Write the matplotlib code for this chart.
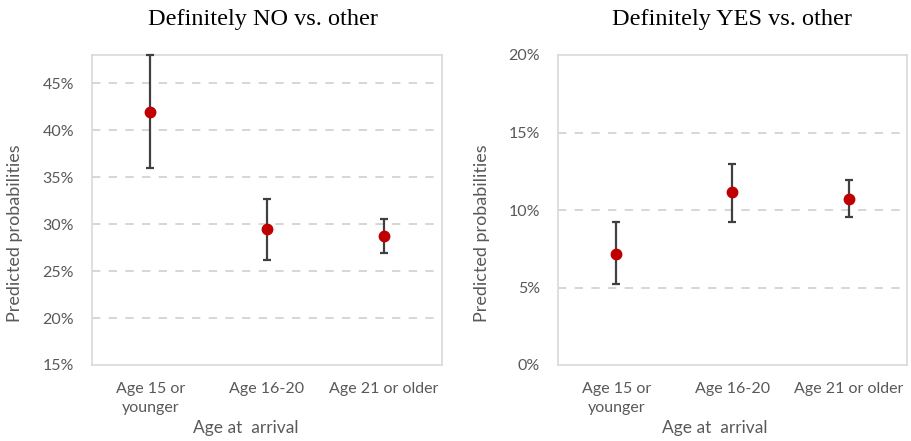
import matplotlib
matplotlib.use("Agg")
import matplotlib.pyplot as plt
import numpy as np
from matplotlib.ticker import FuncFormatter

categories = ["Age 15 or\nyounger", "Age 16-20", "Age 21 or older"]

no_est = [41.9, 29.45, 28.7]
no_low = [36.0, 26.2, 26.9]
no_high = [48.0, 32.7, 30.5]

yes_est = [7.15, 11.15, 10.7]
yes_low = [5.25, 9.25, 9.55]
yes_high = [9.2, 13.0, 11.95]

titles = ["Definitely NO vs. other", "Definitely YES vs. other"]
ylims = [(15, 48), (0, 20)]
yticks = [[15, 20, 25, 30, 35, 40, 45], [0, 5, 10, 15, 20]]

W, H = 911, 441
fig = plt.figure(figsize=(W / 100, H / 100), dpi=100)

tick_font = "Lato"
gray = "#595959"
frame = "#d9d9d9"

positions = [
    [92 / W, (H - 365) / H, 350 / W, 310 / H],
    [558 / W, (H - 365) / H, 349 / W, 310 / H],
]
ylabel_x = [15, 482]
xlabel_cx = [246, 715]
title_cx = [263, 732]

series = [(no_est, no_low, no_high), (yes_est, yes_low, yes_high)]

for i in range(2):
    ax = fig.add_axes(positions[i])
    est, low, high = series[i]
    x = np.arange(len(categories))
    est = np.array(est)
    yerr = np.vstack([est - np.array(low), np.array(high) - est])
    ax.errorbar(x, est, yerr=yerr, fmt="o", color="#c00000", markersize=7.5,
                ecolor="#404040", elinewidth=1.6, capsize=3.2, capthick=1.6,
                zorder=3, clip_on=False)
    ax.set_xlim(-0.5, 2.5)
    ax.set_ylim(*ylims[i])
    ax.set_yticks(yticks[i])
    ax.yaxis.set_major_formatter(FuncFormatter(lambda v, p: f"{v:.0f}%"))
    ax.set_xticks(x)
    ax.set_xticklabels(categories, linespacing=1.5)
    for t in yticks[i]:
        if ylims[i][0] < t < ylims[i][1]:
            ax.axhline(t, color="#d0d0d0", linestyle=(0, (5, 5)), linewidth=1.2, zorder=1)
    for s in ax.spines.values():
        s.set_color(frame)
        s.set_linewidth(1.2)
    ax.tick_params(length=0, labelsize=11.5, labelcolor=gray)
    ax.tick_params(axis="y", pad=13)
    ax.tick_params(axis="x", pad=12)
    for lab in ax.get_xticklabels() + ax.get_yticklabels():
        lab.set_fontfamily(tick_font)
    fig.text(title_cx[i] / W, (H - 20) / H, titles[i], ha="center", va="center",
             fontfamily="Liberation Serif", fontsize=17.5, color="black")
    fig.text(ylabel_x[i] / W, (H - 233) / H, "Predicted probabilities", rotation=90,
             ha="center", va="center", fontsize=13, color=gray, fontfamily=tick_font)
    fig.text(xlabel_cx[i] / W, (H - 428) / H, "Age at  arrival", ha="center", va="center",
             fontsize=12.5, color=gray, fontfamily=tick_font)

fig.savefig("out.png", dpi=100)
